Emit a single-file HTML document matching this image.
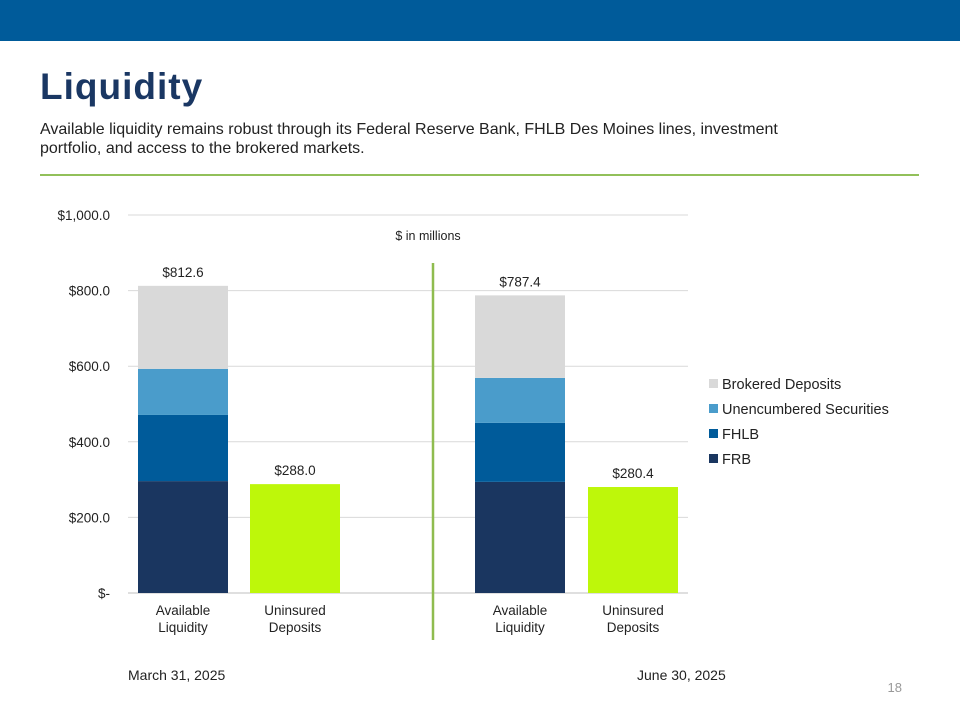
<!DOCTYPE html>
<html><head><meta charset="utf-8">
<style>
body{margin:0;width:960px;height:720px;overflow:hidden;background:#fff;font-family:"Liberation Sans",sans-serif;}
#hdr{position:absolute;left:0;top:0;width:960px;height:41px;background:#005b9a;}
#title{position:absolute;left:40px;top:66px;font-size:37px;font-weight:bold;color:#1a3763;letter-spacing:1px;}
#sub{position:absolute;left:40px;top:120px;font-size:16px;color:#222;line-height:19px;width:800px;}
#rule{position:absolute;left:40px;top:174px;width:879px;height:2px;background:#92c05a;}
svg{position:absolute;left:0;top:0;}
</style></head><body>
<div id="hdr"></div>
<div id="title">Liquidity</div>
<div id="sub">Available liquidity remains robust through its Federal Reserve Bank, FHLB Des Moines lines, investment portfolio, and access to the brokered markets.</div>
<div id="rule"></div>
<svg id="chart" width="960" height="720"></svg>
<script>
const ticks=[0,200,400,600,800,1000];
const tickLabels=["$-","$200.0","$400.0","$600.0","$800.0","$1,000.0"];
const seriesNames=["FRB","FHLB","Unencumbered Securities","Brokered Deposits"];
const frb=[296,0,294,0];
const fhlb=[175,0,156,0];
const unenc=[122,0,119,0];
const brokered=[219.6,0,218.4,0];
const uninsured=[0,288.0,0,280.4];
const totals=["$812.6","$288.0","$787.4","$280.4"];
const catLabels=[["Available","Liquidity"],["Uninsured","Deposits"],["Available","Liquidity"],["Uninsured","Deposits"]];
const colors=["#1a3660","#005b9a","#4a9ccb","#d9d9d9"];
const barX=[138,250,475,588], barW=90;
const y0=593, y1=215;
function y(v){return y0-(v/1000)*(y0-y1);}
const svg=document.getElementById('chart');
const NS="http://www.w3.org/2000/svg";
function mk(t,a){const e=document.createElementNS(NS,t);for(const k in a)e.setAttribute(k,a[k]);svg.appendChild(e);return e;}
ticks.forEach((t,i)=>{
  const g=mk('line',{x1:128,x2:688,y1:y(t),y2:y(t),stroke:i==0?'#bfbfbf':'#d9d9d9','stroke-width':1});
  
  
  const tx=mk('text',{x:110,y:y(t)+5,'text-anchor':'end','font-size':13.5,fill:'#222'});
  tx.textContent=tickLabels[i];
  
  
});
const stacks=[frb,fhlb,unenc,brokered];
barX.forEach((x,i)=>{
  let base=0;
  stacks.forEach((s,j)=>{
    if(s[i]>0){const r=mk('rect',{x:x,width:barW,y:y(base+s[i]),height:y(base)-y(base+s[i]),fill:colors[j]});
      
      }
    base+=s[i];
  });
  if(uninsured[i]>0){const r=mk('rect',{x:x,width:barW,y:y(uninsured[i]),height:y(0)-y(uninsured[i]),fill:'#bef70a'});
    
    
    base=uninsured[i];}
  const lt=mk('text',{x:x+barW/2,y:y(base)-9,'text-anchor':'middle','font-size':13.5,fill:'#222'});
  lt.textContent=totals[i];
  
  
  catLabels[i].forEach((l,k)=>{const c=mk('text',{x:x+barW/2,y:615+k*17,'text-anchor':'middle','font-size':13.5,fill:'#222'});
    c.textContent=l;
    
    });
});
const sep=mk('line',{x1:433,x2:433,y1:263,y2:640,stroke:'#8fbc4f','stroke-width':2.5});


const unit=mk('text',{x:428,y:240,'text-anchor':'middle','font-size':12.5,fill:'#222'});
unit.textContent='$ in millions';


[["March 31, 2025",128],["June 30, 2025",637]].forEach(p=>{const t=mk('text',{x:p[1],y:680,'font-size':14,fill:'#222'});
  t.textContent=p[0];
  
  });
[3,2,1,0].forEach((j,k)=>{
  const r=mk('rect',{x:709,y:379+k*25,width:9,height:9,fill:colors[j]});
  
  
  const t=mk('text',{x:722,y:389+k*25,'font-size':14.5,fill:'#222'});
  t.textContent=seriesNames[j];
  
  
});
const pg=mk('text',{x:902,y:692,'text-anchor':'end','font-size':13,fill:'#999'});
pg.textContent='18';


</script>
</body></html>
